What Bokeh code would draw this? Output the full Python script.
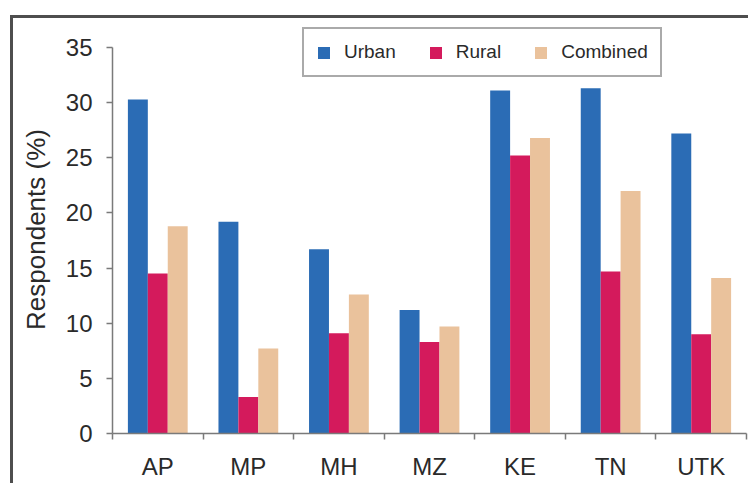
from bokeh.plotting import figure
from bokeh.models import (Range1d, LinearAxis, FixedTicker,
                          ColumnDataSource, Legend, LegendItem)
from bokeh.transform import dodge
from bokeh.embed import file_html
from bokeh.resources import INLINE

states = ["AP", "MP", "MH", "MZ", "KE", "TN", "UTK"]
series = ["Urban", "Rural", "Combined"]
urban = [30.3, 19.2, 16.7, 11.2, 31.1, 31.3, 27.2]
rural = [14.5, 3.3, 9.1, 8.3, 25.2, 14.7, 9.0]
combined = [18.8, 7.7, 12.6, 9.7, 26.8, 22.0, 14.1]
y_ticks = [0, 5, 10, 15, 20, 25, 30, 35]
colors = ["#2b6cb5", "#d41a5c", "#eac29c"]

FONT = "Liberation Sans"
AXIS_COLOR = "#7a7a7a"
TEXT_COLOR = "#2a2a2a"

n = len(states)
centers = [i + 0.5 for i in range(n)]
src = ColumnDataSource(data=dict(xc=centers, state=states, Urban=urban, Rural=rural, Combined=combined))

W, H = 738, 468
p = figure(width=W, height=H,
           x_range=Range1d(0, n), y_range=Range1d(0, 37),
           x_axis_location=None, y_axis_location=None,
           output_backend="svg", toolbar_location=None,
           min_border_left=99, min_border_right=5, min_border_top=7, min_border_bottom=53)
p.outline_line_color = None
p.grid.visible = False
p.background_fill_color = "white"
p.border_fill_color = "white"
p.styles = {"border-top": "3px solid #4e4e4e", "border-left": "3px solid #4e4e4e",
            "margin-top": "15px", "margin-left": "10px"}

# y axis
yaxis = LinearAxis(ticker=FixedTicker(ticks=y_ticks), bounds=(0, 35),
                   axis_label="Respondents (%)")
yaxis.axis_line_color = AXIS_COLOR
yaxis.axis_line_width = 1.5
yaxis.major_tick_line_color = AXIS_COLOR
yaxis.major_tick_line_width = 1.5
yaxis.major_tick_out = 6
yaxis.major_tick_in = 0
yaxis.minor_tick_line_color = None
yaxis.major_label_text_font = FONT
yaxis.major_label_text_font_size = "24px"
yaxis.major_label_text_color = TEXT_COLOR
yaxis.major_label_standoff = 14
yaxis.axis_label_text_font = FONT
yaxis.axis_label_text_font_size = "26px"
yaxis.axis_label_text_font_style = "normal"
yaxis.axis_label_text_color = TEXT_COLOR
yaxis.axis_label_standoff = 12
p.add_layout(yaxis, "left")

# x axis: tick marks at category boundaries (labels hidden)
xticks = LinearAxis(ticker=FixedTicker(ticks=list(range(n + 1))))
xticks.axis_line_color = AXIS_COLOR
xticks.axis_line_width = 1.5
xticks.major_tick_line_color = AXIS_COLOR
xticks.major_tick_line_width = 1.5
xticks.major_tick_out = 6
xticks.major_tick_in = 0
xticks.minor_tick_line_color = None
xticks.major_label_text_font_size = "1px"
xticks.major_label_text_color = None
xticks.major_label_standoff = 0
p.add_layout(xticks, "below")

# x axis: category labels at group centres
xcat = LinearAxis(ticker=FixedTicker(ticks=centers),
                  major_label_overrides={c: s for c, s in zip(centers, states)})
xcat.axis_line_color = None
xcat.major_tick_line_color = None
xcat.minor_tick_line_color = None
xcat.major_tick_out = 0
xcat.major_tick_in = 0
xcat.major_label_text_font = FONT
xcat.major_label_text_font_size = "24px"
xcat.major_label_text_color = TEXT_COLOR
xcat.major_label_standoff = 13
p.add_layout(xcat, "below")

offsets = [-0.22, 0.0, 0.22]
renderers = []
for name, off, col in zip(series, offsets, colors):
    r = p.vbar(x=dodge("xc", off), top=name, width=0.22, bottom=0,
               source=src, fill_color=col, line_color=None)
    renderers.append(r)

legend = Legend(items=[LegendItem(label=s, renderers=[r]) for s, r in zip(series, renderers)],
                orientation="horizontal", location=(190, 356))
legend.margin = 0
legend.padding = 12
legend.spacing = 32
legend.glyph_width = 15
legend.glyph_height = 15
legend.label_standoff = 13
legend.label_text_font = FONT
legend.label_text_font_size = "19px"
legend.label_text_color = TEXT_COLOR
legend.border_line_color = "#555555"
legend.border_line_width = 2
legend.background_fill_color = "white"
legend.background_fill_alpha = 1
p.add_layout(legend)

open("out.html", "w").write(file_html(p, INLINE))
